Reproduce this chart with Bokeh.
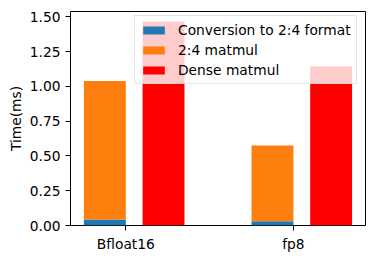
from bokeh.plotting import figure
from bokeh.models import Range1d, FixedTicker, Legend, LegendItem, NumeralTickFormatter
from bokeh.embed import file_html
from bokeh.resources import INLINE

categories = ["Bfloat16", "fp8"]
conversion = [0.044, 0.031]
matmul_24 = [0.995, 0.545]
dense = [1.466, 1.145]
y_ticks = [0.0, 0.25, 0.5, 0.75, 1.0, 1.25, 1.5]

FONT = "DejaVu Sans"
FS = "13.8px"
bw = 0.25
idx = list(range(len(categories)))
x_stack = [i - bw / 2 for i in idx]
x_dense = [i + 0.1 + bw / 2 for i in idx]
stack_top = [c + m for c, m in zip(conversion, matmul_24)]

p = figure(width=374, height=259, output_backend="svg", toolbar_location=None,
           x_range=Range1d(-0.33, 1.43), y_range=Range1d(0, 1.5393),
           min_border_left=70, min_border_right=9, min_border_top=11, min_border_bottom=34)

r1 = p.vbar(x=x_stack, top=conversion, bottom=0, width=bw, color="#1f77b4", line_color=None)
r2 = p.vbar(x=x_stack, top=stack_top, bottom=conversion, width=bw, color="#ff7f0e", line_color=None)
r3 = p.vbar(x=x_dense, top=dense, bottom=0, width=bw, color="red", line_color=None)

p.xgrid.visible = False
p.ygrid.visible = False
p.outline_line_color = "black"
p.outline_line_width = 1
p.background_fill_color = "white"

p.xaxis.ticker = FixedTicker(ticks=idx)
p.xaxis.major_label_overrides = {i: c for i, c in zip(idx, categories)}
p.yaxis.ticker = FixedTicker(ticks=y_ticks)
p.yaxis.formatter = NumeralTickFormatter(format="0.00")
p.yaxis.axis_label = "Time(ms)"
p.yaxis.axis_label_text_font_style = "normal"
p.yaxis.axis_label_text_font = FONT
p.yaxis.axis_label_text_font_size = FS
p.yaxis.axis_label_text_color = "black"
p.yaxis.axis_label_standoff = 3
for ax in (p.xaxis, p.yaxis):
    ax.major_tick_out = 5
    ax.major_tick_in = 0
    ax.minor_tick_out = 0
    ax.minor_tick_in = 0
    ax.major_label_text_font = FONT
    ax.major_label_text_font_size = FS
    ax.major_label_text_color = "black"
    ax.major_label_standoff = 5
    ax.axis_line_color = None
    ax.major_tick_line_color = "black"

legend = Legend(items=[
    LegendItem(label="Conversion to 2:4 format", renderers=[r1]),
    LegendItem(label="2:4 matmul", renderers=[r2]),
    LegendItem(label="Dense matmul", renderers=[r3]),
], location=(64, 141))
legend.label_text_font = FONT
legend.label_text_font_size = FS
legend.label_text_color = "black"
legend.glyph_width = 27
legend.glyph_height = 10
legend.label_standoff = 11
legend.label_height = 17
legend.spacing = 3
legend.padding = 5
legend.margin = 0
legend.background_fill_alpha = 0.8
legend.border_line_color = "#cccccc"
legend.border_line_width = 1
p.add_layout(legend, "center")

open("out.html", "w").write(file_html(p, INLINE))
